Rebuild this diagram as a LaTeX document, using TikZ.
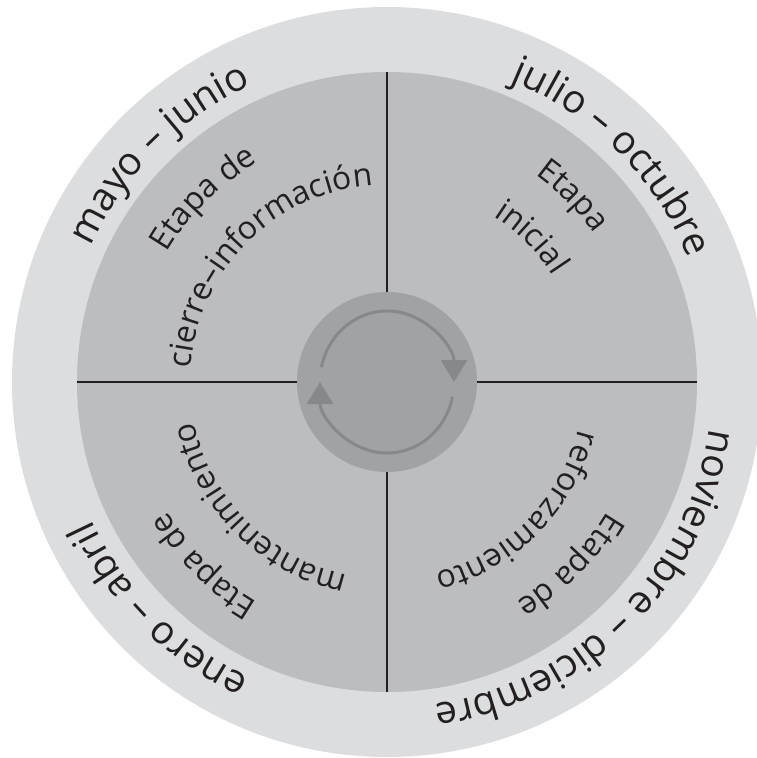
\documentclass[tikz,border=0pt]{standalone}
\usepackage{fontspec}
\usepackage{xcolor}
\usetikzlibrary{decorations.text,arrows.meta}
\newfontfamily\wheelfont{Open Sans}
\definecolor{wheelrim}{HTML}{DCDDDF}
\definecolor{wheeldisk}{HTML}{BCBDC1}
\definecolor{wheelhub}{HTML}{A1A2A6}
\definecolor{wheelarrow}{HTML}{87888C}
\definecolor{wheelink}{HTML}{231F20}

\begin{document}
\begin{tikzpicture}[x=1pt,y=1pt,
  rimlabel/.style={decorate,decoration={text along path,text align=center,text color=wheelink,
    text={|\wheelfont\fontsize{39}{39}\selectfont|#1}}},
  stagelabel/.style={decorate,decoration={text along path,text align=center,text color=wheelink,
    text={|\wheelfont\fontsize{32}{32}\selectfont|#1}}},
  hubarrow/.style={wheelarrow,line width=3pt,-{Triangle[width=26pt,length=22pt]}}]
  \useasboundingbox (-387,-376) rectangle (369,382);
  \fill[wheelrim] (0,0) circle[radius=375];
  \fill[wheeldisk] (0,0) circle[radius=310];
  \draw[wheelink,line width=1.5pt] (0,310) -- (0,-310) (-310,0) -- (310,0);
  \fill[wheelhub] (0,0) circle[radius=90];
  \draw[hubarrow] (168:67 and 71) arc[start angle=168,end angle=0,x radius=67,y radius=71];
  \draw[hubarrow] (-12:67 and 71) arc[start angle=-12,end angle=-180,x radius=67,y radius=71];

  \path[rimlabel={mayo – junio}] (195:326) arc[start angle=195,end angle=75,radius=326];
  \path[rimlabel={julio – octubre}] (105:326) arc[start angle=105,end angle=-15,radius=326];
  \path[rimlabel={noviembre – diciembre}] (15:326) arc[start angle=15,end angle=-105,radius=326];
  \path[rimlabel={enero – abril}] (-75:326) arc[start angle=-75,end angle=-195,radius=326];

  \path[stagelabel={Etapa de}] (190:255) arc[start angle=190,end angle=80,radius=255];
  \path[stagelabel={cierre–información}] (190:197) arc[start angle=190,end angle=80,radius=197];
  \path[stagelabel={Etapa}] (100:255) arc[start angle=100,end angle=-10,radius=255];
  \path[stagelabel={inicial}] (100:197) arc[start angle=100,end angle=-10,radius=197];
  \path[stagelabel={Etapa de}] (10:255) arc[start angle=10,end angle=-100,radius=255];
  \path[stagelabel={reforzamiento}] (10:197) arc[start angle=10,end angle=-100,radius=197];
  \path[stagelabel={Etapa de}] (-80:255) arc[start angle=-80,end angle=-190,radius=255];
  \path[stagelabel={mantenimiento}] (-80:197) arc[start angle=-80,end angle=-190,radius=197];
\end{tikzpicture}
\end{document}
